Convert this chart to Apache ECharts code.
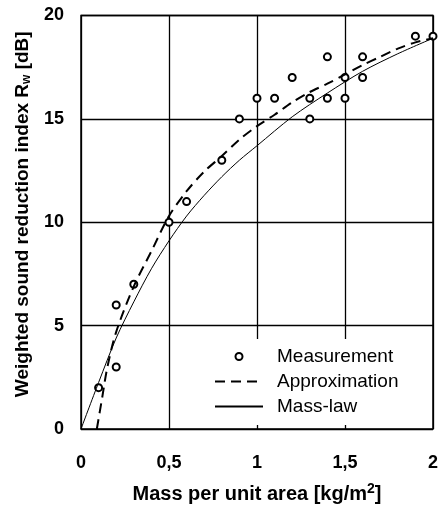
<!DOCTYPE html>
<html>
<head>
<meta charset="utf-8">
<script src="https://cdn.jsdelivr.net/npm/echarts@6/dist/echarts.min.js"></script>
<style>
  html, body { margin: 0; padding: 0; background: #fff; }
  #chart { width: 441px; height: 509px; }
</style>
</head>
<body>
<div id="chart"></div>
<script>
// measurements
const measX = [0.1, 0.2, 0.2, 0.3, 0.5, 0.6, 0.8, 0.9, 1.0, 1.1, 1.2, 1.3, 1.3, 1.4, 1.4, 1.5, 1.5, 1.6, 1.6, 1.9, 2.0]
const measY = [2, 3, 6, 7, 10, 11, 13, 15, 16, 16, 17, 15, 16, 16, 18, 16, 17, 17, 18, 19, 19]

// approximation curve (dashed)
const approxX = [0.09, 0.12, 0.15, 0.2, 0.3, 0.4, 0.5, 0.6, 0.7, 0.8, 0.9, 1.0, 1.1, 1.2, 1.3, 1.4, 1.5, 1.6, 1.7, 1.8, 1.9, 2.0]
const approxY = [0, 1.5, 3.0, 4.7, 6.9, 8.6, 10.3, 11.5, 12.45, 13.2, 14.0, 14.65, 15.2, 15.8, 16.3, 16.7, 17.15, 17.6, 18.0, 18.4, 18.7, 18.9]

// mass-law curve (solid)
const massX = [0, 0.1, 0.2, 0.3, 0.4, 0.5, 0.6, 0.7, 0.8, 0.9, 1.0, 1.2, 1.4, 1.6, 1.8, 2.0]
const massY = [0, 2.25, 4.4, 6.15, 7.75, 9.1, 10.3, 11.3, 12.2, 13.0, 13.7, 15.1, 16.25, 17.3, 18.15, 18.9]

const seriesNames = ['Measurement', 'Approximation', 'Mass-law']

const pairs = (xs, ys) => xs.map((x, i) => [x, ys[i]])

const chart = echarts.init(document.getElementById('chart'))
const font = 'Liberation Sans, Arial, sans-serif'

chart.setOption({
  animation: false,
  textStyle: { fontFamily: font },
  grid: {
    left: 81,
    right: 8,
    top: 15.5,
    bottom: 76,
    show: true,
    borderColor: '#000',
    borderWidth: 1.5
  },
  legend: {
    orient: 'vertical',
    left: 205,
    top: 339,
    padding: [8, 10, 9, 9],
    backgroundColor: '#fff',
    itemWidth: 48,
    itemHeight: 7,
    itemGap: 6,
    textStyle: {
      fontSize: 19,
      color: '#000',
      lineHeight: 19,
      padding: [0, 0, 0, 9]
    },
    data: [
      { name: seriesNames[0] },
      { name: seriesNames[1], itemStyle: { opacity: 0 } },
      { name: seriesNames[2], itemStyle: { opacity: 0 } }
    ]
  },
  xAxis: {
    type: 'value',
    min: 0,
    max: 2,
    interval: 0.5,
    name: 'Mass per unit area [kg/m{sup|2}]',
    nameLocation: 'middle',
    nameGap: 53,
    nameTextStyle: {
      fontSize: 20,
      fontWeight: 'bold',
      color: '#000',
      rich: {
        sup: { fontSize: 14, fontWeight: 'bold', verticalAlign: 'top', padding: [0, 0, 10, 0] }
      }
    },
    axisLine: { show: false },
    axisTick: { show: false },
    axisLabel: {
      margin: 25,
      fontSize: 18,
      fontWeight: 'bold',
      color: '#000',
      formatter: (v) => String(v).replace('.', ',')
    },
    splitLine: { lineStyle: { color: '#000', width: 1.3 } }
  },
  yAxis: {
    type: 'value',
    min: 0,
    max: 20,
    interval: 5,
    name: 'Weighted sound reduction index R{sub|w} [dB]',
    nameLocation: 'middle',
    nameGap: 43,
    nameTextStyle: {
      fontSize: 19,
      fontWeight: 'bold',
      color: '#000',
      padding: [0, 0, 0, 16],
      rich: {
        sub: { fontSize: 12, fontWeight: 'bold', padding: [8, 0, 0, 0] }
      }
    },
    axisLine: { show: false },
    axisTick: { show: false },
    axisLabel: {
      margin: 17,
      fontSize: 18,
      fontWeight: 'bold',
      color: '#000'
    },
    splitLine: { lineStyle: { color: '#000', width: 1.3 } }
  },
  series: [
    {
      name: seriesNames[0],
      type: 'scatter',
      symbol: 'emptyCircle',
      symbolSize: 7,
      itemStyle: { color: '#000', borderColor: '#000', borderWidth: 1.6, opacity: 1 },
      data: pairs(measX, measY)
    },
    {
      name: seriesNames[1],
      type: 'line',
      smooth: 0.3,
      showSymbol: false,
      symbol: 'none',
      lineStyle: { color: '#000', width: 2, type: [10, 6] },
      itemStyle: { color: '#000' },
      data: pairs(approxX, approxY)
    },
    {
      name: seriesNames[2],
      type: 'line',
      smooth: 0.3,
      showSymbol: false,
      symbol: 'none',
      lineStyle: { color: '#000', width: 1 },
      itemStyle: { color: '#000' },
      data: pairs(massX, massY)
    }
  ]
})
</script>
</body>
</html>
